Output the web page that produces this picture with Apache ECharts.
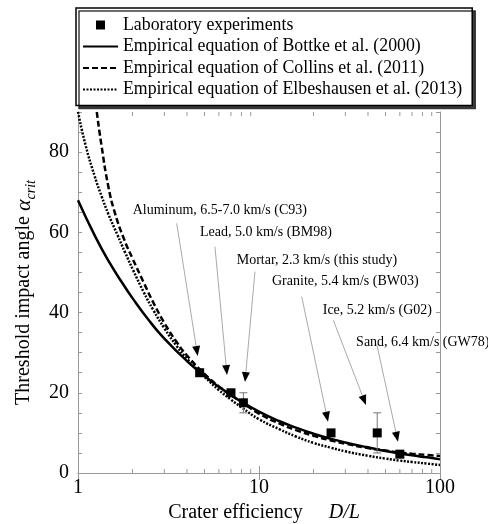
<!DOCTYPE html>
<html><head><meta charset="utf-8">
<script src="https://cdn.jsdelivr.net/npm/echarts@6/dist/echarts.min.js"></script>
<style>html,body{margin:0;padding:0;background:#fff}#c{width:488px;height:524px}</style>
</head><body><div id="c"></div>
<script>
const SERIF = 'Liberation Serif';

// ---- data ----
const seriesNames = [
  'Laboratory experiments',
  'Empirical equation of Bottke et al. (2000)',
  'Empirical equation of Collins et al. (2011)',
  'Empirical equation of Elbeshausen et al. (2013)'
];
const expX = [4.7, 7.0, 8.2, 25, 45, 60];
const expY = [25, 20, 17.5, 10, 10, 4.7];
const errX = [8.2, 45];
const errLow = [15, 5];
const errHigh = [20, 15];

const bottkeX = [1, 1.25, 1.5, 1.75, 2, 2.5, 3, 4, 5, 6, 7, 8, 10, 13, 16, 20, 25, 30, 40, 50, 60, 70, 85, 100];
const bottkeY = [68, 58.8, 52.3, 47.5, 43.6, 37.7, 33.5, 27.9, 24.2, 21.5, 19.4, 17.8, 15.3, 12.9, 11.3, 9.8, 8.5, 7.6, 6.4, 5.5, 4.9, 4.4, 3.9, 3.4];

const collinsX = [1.27, 1.35, 1.47, 1.6, 1.8, 2, 2.3, 2.6, 3, 3.5, 4, 5, 6, 7, 8, 10, 13, 16, 20, 25, 30, 40, 50, 60, 70, 85, 100];
const collinsY = [90, 81.5, 71.5, 64.8, 58.2, 53.5, 47.6, 42.6, 37.4, 32.7, 29.3, 24.7, 21.6, 19.4, 17.7, 14.8, 12.3, 10.7, 9.3, 8.1, 7.3, 6.2, 5.6, 5.1, 4.8, 4.5, 4.25];

const elbeX = [1, 1.1, 1.24, 1.35, 1.47, 1.65, 1.82, 2.02, 2.3, 2.6, 3, 3.5, 4, 5, 6, 7, 8, 10, 13, 16, 20, 25, 30, 40, 50, 60, 70, 85, 100];
const elbeY = [90, 81.8, 73.8, 69.0, 64.6, 59.4, 55.0, 50.5, 45.2, 40.7, 36.1, 31.7, 28.5, 24.0, 20.7, 18.3, 16.4, 13.4, 10.9, 9.1, 7.5, 6.3, 5.4, 4.3, 3.6, 3.1, 2.75, 2.35, 2.0];

const xMinorTicks = [2, 3, 4, 5, 6, 7, 8, 9, 20, 30, 40, 50, 60, 70, 80, 90];
const yLabelValues = [0, 20, 40, 60, 80];

const annoText = [
  'Aluminum, 6.5-7.0 km/s (C93)',
  'Lead, 5.0 km/s (BM98)',
  'Mortar, 2.3 km/s (this study)',
  'Granite, 5.4 km/s (BW03)',
  'Ice, 5.2 km/s (G02)',
  'Sand, 6.4 km/s (GW78)'
];
const annoLabelAt = [[2.005, 65.6], [4.72, 59.9], [7.53, 53.0], [11.8, 47.7], [22.5, 40.6], [34.4, 32.7]];
const annoFrom = [[3.51, 62.25], [5.71, 56.4], [9.50, 50.2], [17.22, 43.95], [25.74, 38.1], [44.7, 32.2]];
const annoTip = [[4.585, 29.17], [6.658, 24.43], [8.37, 22.69], [24.06, 12.79], [39.0, 16.95], [58.6, 7.8]];

const zip = (a, b) => a.map((v, i) => [v, b[i]]);

const AX = '#999';
const chart = echarts.init(document.getElementById('c'), null, {renderer: 'canvas'});

const xBase = {
  type: 'log', logBase: 10, min: 1, max: 100,
  axisLine: {show: true, lineStyle: {color: AX, width: 1}},
  axisTick: {show: true, inside: true, length: 7, lineStyle: {color: AX}},
  minorTick: {show: false},
  splitLine: {show: false}
};
const yBase = {
  type: 'value', min: 0, max: 90, interval: 5,
  axisLine: {show: true, lineStyle: {color: AX, width: 1}},
  axisTick: {show: true, inside: true, length: 4, lineStyle: {color: AX}},
  splitLine: {show: false}
};

const option = {
  animation: false,
  backgroundColor: '#fff',
  textStyle: {fontFamily: SERIF},
  grid: {left: 78, right: 48, top: 112, bottom: 51, containLabel: false, outerBoundsMode: 'none'},
  xAxis: [
    Object.assign({}, xBase, {
      position: 'bottom',
      axisLabel: {show: true, fontFamily: SERIF, fontSize: 20, color: '#000', margin: 5},
      name: '{t|Crater efficiency  }{i|D/L}',
      nameLocation: 'middle', nameGap: 27,
      nameTextStyle: {fontFamily: SERIF, fontSize: 20, color: '#000', padding: [0, 0, 0, 10],
        rich: {t: {fontFamily: SERIF, fontSize: 20, color: '#000'},
               i: {fontFamily: SERIF, fontSize: 20, fontStyle: 'italic', color: '#000', padding: [0, 0, 0, 16]}}}
    }),
    Object.assign({}, xBase, {position: 'top', axisLabel: {show: false}})
  ],
  yAxis: [
    Object.assign({}, yBase, {
      position: 'left',
      axisLabel: {show: true, fontFamily: SERIF, fontSize: 20, color: '#000', margin: 9,
        formatter: v => (yLabelValues.indexOf(v) >= 0 ? String(v) : '')},
      name: '{t|Threshold impact angle }{a|α}{s|crit}',
      nameLocation: 'middle', nameRotate: 90, nameGap: 35,
      nameTextStyle: {fontFamily: SERIF, fontSize: 20, color: '#000',
        rich: {
          t: {fontFamily: SERIF, fontSize: 20, color: '#000', lineHeight: 28},
          a: {fontFamily: SERIF, fontSize: 22, fontStyle: 'italic', color: '#000', lineHeight: 28},
          s: {fontFamily: SERIF, fontSize: 14, fontStyle: 'italic', color: '#000', lineHeight: 14, verticalAlign: 'bottom'}
        }}
    }),
    Object.assign({}, yBase, {position: 'right', axisLabel: {show: false}})
  ],
  legend: {
    left: 76, top: 8, orient: 'vertical',
    data: [
      {name: seriesNames[0], icon: 'path://M0 0H10V10H0Z', itemStyle: {color: '#000', opacity: 1}},
      {name: seriesNames[1], itemStyle: {opacity: 0}},
      {name: seriesNames[2], itemStyle: {opacity: 0}},
      {name: seriesNames[3], itemStyle: {opacity: 0}}
    ],
    itemWidth: 35, itemHeight: 9, itemGap: 3.5,
    symbolKeepAspect: true,
    padding: [8, 10, 7, 6],
    backgroundColor: '#fff', borderColor: '#000', borderWidth: 1.5, borderRadius: 0,
    shadowColor: 'rgba(40,40,40,0.9)', shadowBlur: 0, shadowOffsetX: 3, shadowOffsetY: 3,
    textStyle: {fontFamily: SERIF, fontSize: 17.8, color: '#000', lineHeight: 18},
    selectedMode: false
  },
  series: [
    {
      name: seriesNames[1], type: 'line', data: zip(bottkeX, bottkeY),
      symbol: 'none', showSymbol: false, smooth: 0.5, clip: true,
      lineStyle: {color: '#000', width: 2.5, type: 'solid'}, itemStyle: {color: '#000'}, z: 2
    },
    {
      name: seriesNames[2], type: 'line', data: zip(collinsX, collinsY),
      symbol: 'none', showSymbol: false, smooth: 0.5, clip: true,
      lineStyle: {color: '#000', width: 2.5, type: [6, 3]}, itemStyle: {color: '#000'}, z: 2
    },
    {
      name: seriesNames[3], type: 'line', data: zip(elbeX, elbeY),
      symbol: 'none', showSymbol: false, smooth: 0.5, clip: true,
      lineStyle: {color: '#000', width: 2.5, type: [2, 1.5]}, itemStyle: {color: '#000'}, z: 2
    },
    {
      name: 'errorbars', type: 'custom', silent: true, z: 3,
      data: errX.map((x, i) => [x, errLow[i], errHigh[i]]),
      encode: {x: 0, y: [1, 2]},
      renderItem: function (params, api) {
        const lo = api.coord([api.value(0), api.value(1)]);
        const hi = api.coord([api.value(0), api.value(2)]);
        const w = 4, st = {stroke: '#777', lineWidth: 1};
        return {type: 'group', children: [
          {type: 'line', shape: {x1: lo[0], y1: lo[1], x2: hi[0], y2: hi[1]}, style: st},
          {type: 'line', shape: {x1: hi[0] - w, y1: hi[1], x2: hi[0] + w, y2: hi[1]}, style: st},
          {type: 'line', shape: {x1: lo[0] - w, y1: lo[1], x2: lo[0] + w, y2: lo[1]}, style: st}
        ]};
      }
    },
    {
      name: seriesNames[0], type: 'scatter', data: zip(expX, expY),
      symbol: 'rect', symbolSize: 9, symbolKeepAspect: true,
      itemStyle: {color: '#000', opacity: 1}, z: 4
    },
    {
      name: 'minorticks', type: 'custom', silent: true, z: 1,
      data: xMinorTicks.map(v => [v, 0]),
      renderItem: function (params, api) {
        const x = api.value(0);
        const b = api.coord([x, 0]);
        const t = api.coord([x, 90]);
        const st = {stroke: AX, lineWidth: 1};
        return {type: 'group', children: [
          {type: 'line', shape: {x1: b[0], y1: b[1], x2: b[0], y2: b[1] - 4}, style: st},
          {type: 'line', shape: {x1: t[0], y1: t[1], x2: t[0], y2: t[1] + 4}, style: st}
        ]};
      }
    }
  ]
};
chart.setOption(option);

// annotations: labels with gray leader lines and black arrowheads
const toPx = p => chart.convertToPixel({xAxisIndex: 0, yAxisIndex: 0}, p);
const g = [];
annoText.forEach((t, i) => {
  const lp = toPx(annoLabelAt[i]);
  const p0 = toPx(annoFrom[i]);
  const p1 = toPx(annoTip[i]);
  const dx = p1[0] - p0[0], dy = p1[1] - p0[1];
  const L = Math.hypot(dx, dy), ux = dx / L, uy = dy / L;
  const ah = 10, hw = 4;
  const bx = p1[0] - ux * ah, by = p1[1] - uy * ah;
  g.push({type: 'text', x: lp[0], y: lp[1], z: 10,
    style: {text: t, font: '14px "Liberation Serif"', fill: '#000', align: 'left', verticalAlign: 'middle'}});
  g.push({type: 'line', z: 10, shape: {x1: p0[0], y1: p0[1], x2: bx, y2: by},
    style: {stroke: '#aaa', lineWidth: 1}});
  g.push({type: 'polygon', z: 10, shape: {points: [[p1[0], p1[1]], [bx - uy * hw, by + ux * hw], [bx + uy * hw, by - ux * hw]]},
    style: {fill: '#000'}});
});
chart.setOption({graphic: g});
</script>
</body></html>
